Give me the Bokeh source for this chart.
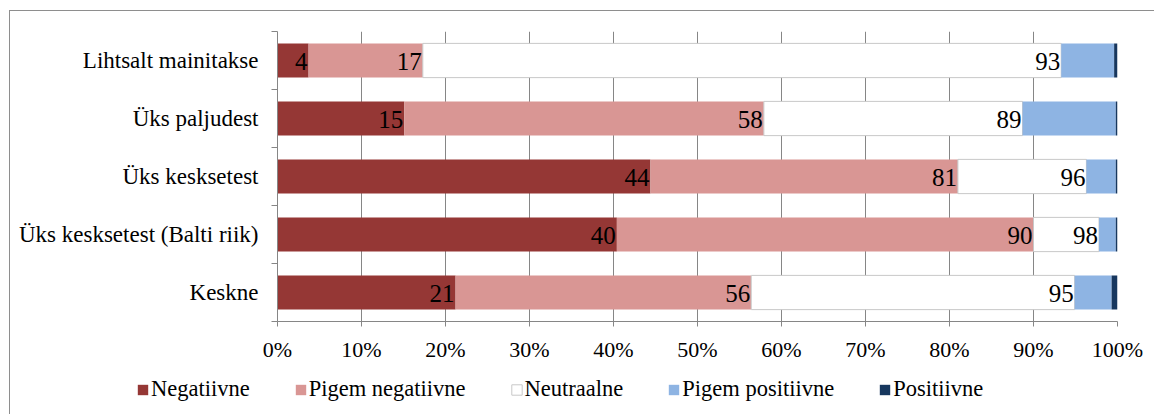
from bokeh.plotting import figure
from bokeh.models import Range1d, FixedTicker, Legend, LegendItem, ColumnDataSource
from bokeh.layouts import column
from bokeh.core.properties import value
from bokeh.embed import file_html
from bokeh.resources import INLINE

categories = ["Lihtsalt mainitakse", "Üks paljudest", "Üks kesksetest",
              "Üks kesksetest (Balti riik)", "Keskne"]
series = ["Negatiivne", "Pigem negatiivne", "Neutraalne", "Pigem positiivne", "Positiivne"]
negatiivne = [3.7, 15.1, 44.4, 40.4, 21.2]
pigem_negatiivne = [13.6, 42.8, 36.6, 49.6, 35.2]
neutraalne = [76.0, 30.8, 15.3, 7.8, 38.5]
pigem_positiivne = [6.3, 11.1, 3.5, 2.0, 4.4]
positiivne = [0.4, 0.2, 0.2, 0.2, 0.7]
x_ticks = [0, 10, 20, 30, 40, 50, 60, 70, 80, 90, 100]

values = [negatiivne, pigem_negatiivne, neutraalne, pigem_positiivne, positiivne]
colors = ["#953735", "#D99694", "#FFFFFF", "#8EB4E3", "#17375E"]
line_colors = [None, None, "#C8C8C8", None, None]
labelled = [True, True, True, False, False]

FONT = "Liberation Serif"
GRAY = "#868686"

p = figure(width=1144, height=360, output_backend="svg", toolbar_location=None,
           x_range=Range1d(0, 100), y_range=Range1d(len(categories), 0),
           min_border_left=267, min_border_right=37, min_border_top=20, min_border_bottom=50)
p.outline_line_color = None
p.background_fill_color = "white"

# legend-only figure below the chart (its view is kept away from the data)
pl = figure(width=1144, height=43, output_backend="svg", toolbar_location=None,
            x_axis_type=None, y_axis_type=None, x_range=Range1d(0, 100),
            y_range=Range1d(100, 101),
            min_border_left=0, min_border_right=0, min_border_top=0, min_border_bottom=0)
pl.outline_line_color = None
try:
    p.frame_align = False
    pl.frame_align = False
except Exception:
    pass

ypos = [i + 0.5 for i in range(len(categories))]
left = [0.0] * len(categories)
items = []
for name, vals, col, lc, lab in zip(series, values, colors, line_colors, labelled):
    right = [l + v for l, v in zip(left, vals)]
    src = ColumnDataSource(dict(y=ypos, left=left, right=right,
                                txt=[str(int(round(r))) for r in right]))
    p.hbar(y="y", left="left", right="right", height=0.59, source=src,
           fill_color=col, line_color=lc, line_width=1)
    rl = pl.hbar(y="y", left="left", right="right", height=0.59, source=src,
                 fill_color=col, line_color=lc, line_width=1)
    items.append(LegendItem(label=name, renderers=[rl]))
    if lab:
        p.text(x="right", y="y", text="txt", source=src, text_align="right",
               text_baseline="middle", x_offset=-1, y_offset=1,
               text_font=value(FONT), text_font_size="25px", text_color="black")
    left = right

# x axis
p.xaxis.ticker = FixedTicker(ticks=x_ticks)
p.xaxis.major_label_overrides = {t: f"{t}%" for t in x_ticks}
p.xaxis.major_label_text_font = FONT
p.xaxis.major_label_text_font_size = "22px"
p.xaxis.major_label_text_color = "black"
p.xaxis.axis_line_color = GRAY
p.xaxis.major_tick_line_color = GRAY
p.xaxis.major_tick_out = 5
p.xaxis.major_tick_in = 0
p.xaxis.minor_tick_line_color = None
p.xaxis.major_label_standoff = 10

# y axis
p.yaxis.ticker = FixedTicker(ticks=ypos, minor_ticks=list(range(len(categories) + 1)))
p.yaxis.major_label_overrides = {y: c for y, c in zip(ypos, categories)}
p.yaxis.major_label_text_font = FONT
p.yaxis.major_label_text_font_size = "23px"
p.yaxis.major_label_text_color = "black"
p.yaxis.axis_line_color = GRAY
p.yaxis.major_tick_line_color = None
p.yaxis.major_tick_out = 5
p.yaxis.major_tick_in = 0
p.yaxis.minor_tick_line_color = GRAY
p.yaxis.minor_tick_out = 6
p.yaxis.minor_tick_in = 0
p.yaxis.major_label_standoff = 13

p.xgrid.grid_line_color = GRAY
p.ygrid.grid_line_color = None

legend = Legend(items=items, orientation="horizontal", location=(126, 12),
                glyph_width=13, glyph_height=13, label_standoff=2, spacing=44,
                padding=0, margin=0, border_line_color=None, background_fill_alpha=0,
                label_text_font=FONT, label_text_font_size="22.5px", label_text_color="black")
pl.add_layout(legend, "center")

layout = column(p, pl, spacing=0)
layout.margin = (10, 0, 0, 9)
layout.styles = {"border-left": "1px solid #8e8e8e", "border-top": "1px solid #8e8e8e"}

open("out.html", "w").write(file_html(layout, INLINE))
